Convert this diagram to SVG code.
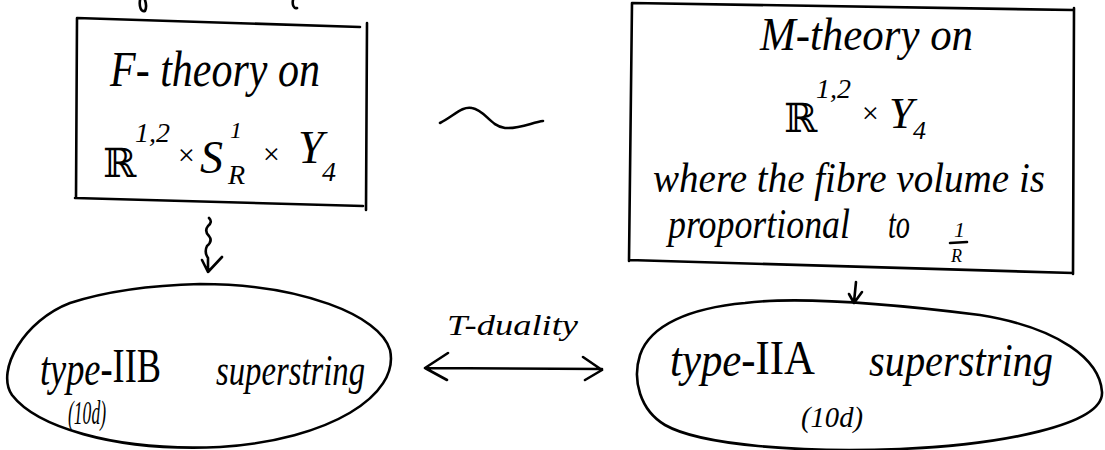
<svg xmlns="http://www.w3.org/2000/svg" width="1105" height="450" viewBox="0 0 1105 450">
  <style>
    .ink { fill: none; stroke: #000; stroke-width: 2.6; stroke-linecap: round; stroke-linejoin: round; }
    .hand { font-family: "Liberation Serif", "DejaVu Serif", serif; font-style: italic; fill: #000; }
    .rn { font-family: "Liberation Serif", "DejaVu Serif", serif; font-style: normal; fill: #000; }
    .bb { font-family: "DejaVu Serif", "Liberation Serif", serif; font-style: normal; fill: #000; }
  </style>
  <rect width="1105" height="450" fill="#fff"/>

  <!-- stray pen marks at the upper edge -->
  <path class="ink" d="M140,0 C139,7 141,12 145,11 C147,7 146,3 145,0"/>
  <path class="ink" d="M293,0 C292,5 294,9 297,8"/>

  <!-- F-theory box -->
  <g id="f-theory">
    <path class="ink" d="M77,18 L360,27 M367,23 L366,210 M363,206 L75,198 M76,198 L77,18"/>
    <text class="hand" x="110" y="86" font-size="50" textLength="210" lengthAdjust="spacingAndGlyphs">F- theory on</text>
    <text class="hand" font-size="50"><tspan class="bb" x="103" y="177" font-size="40">ℝ</tspan><tspan x="135" y="142" font-size="28">1,2</tspan><tspan x="176" y="165" font-size="30">×</tspan><tspan x="200" y="173" font-size="46">S</tspan><tspan x="230" y="138" font-size="24">1</tspan><tspan x="228" y="184" font-size="28">R</tspan><tspan x="261" y="164" font-size="30">×</tspan><tspan x="298" y="163" font-size="46">Y</tspan><tspan x="322" y="181" font-size="28">4</tspan></text>
  </g>

  <!-- M-theory box -->
  <g id="m-theory">
    <path class="ink" d="M632,3 L1073,10 M1074,8 L1073,274 M1073,273 L629,260 M629,261 L632,3"/>
    <text class="hand" x="760" y="50" font-size="46" textLength="213" lengthAdjust="spacingAndGlyphs">M-theory on</text>
    <text class="hand" font-size="48"><tspan class="bb" x="784" y="132" font-size="40">ℝ</tspan><tspan x="816" y="98" font-size="28">1,2</tspan><tspan x="860" y="123" font-size="30">×</tspan><tspan x="889" y="128" font-size="44">Y</tspan><tspan x="913" y="139" font-size="26">4</tspan></text>
    <text class="hand" x="653" y="192" font-size="42" textLength="392" lengthAdjust="spacingAndGlyphs">where the fibre volume is</text>
    <text class="hand" x="668" y="238" font-size="42" textLength="182" lengthAdjust="spacingAndGlyphs">proportional</text>
    <text class="hand" x="888" y="238" font-size="42" textLength="22" lengthAdjust="spacingAndGlyphs">to</text>
    <text class="hand" font-size="22"><tspan x="954" y="237">1</tspan><tspan x="951" y="262" font-size="18">R</tspan></text>
    <path class="ink" d="M950,243 L967,242" stroke-width="2"/>
  </g>

  <!-- type IIB ellipse -->
  <g id="type-iib">
    <path class="ink" d="M200,284 C300,284 380,315 390,350 C400,395 330,440 220,447 C110,452 35,425 12,395 C-5,370 25,320 70,303 C110,290 160,285 200,284 Z"/>
    <text x="40" y="385" font-size="48" textLength="121" lengthAdjust="spacingAndGlyphs"><tspan class="hand">type-</tspan><tspan class="rn" dy="-3">IIB</tspan></text>
    <text class="hand" x="216" y="385" font-size="44" textLength="149" lengthAdjust="spacingAndGlyphs">superstring</text>
    <text class="hand" x="68" y="424" font-size="34" textLength="38" lengthAdjust="spacingAndGlyphs">(10d)</text>
  </g>

  <!-- type IIA ellipse -->
  <g id="type-iia">
    <path class="ink" d="M745,303 C800,296 900,305 980,315 C1060,328 1100,360 1102,392 C1104,425 1000,445 900,449 C800,453 700,445 665,425 C640,410 632,380 640,355 C650,325 690,308 745,303 Z"/>
    <text x="670" y="376" font-size="48" textLength="145" lengthAdjust="spacingAndGlyphs"><tspan class="hand">type-</tspan><tspan class="rn" dy="-2">IIA</tspan></text>
    <text class="hand" x="869" y="376" font-size="46" textLength="184" lengthAdjust="spacingAndGlyphs">superstring</text>
    <text class="hand" x="801" y="427" font-size="30" textLength="62" lengthAdjust="spacingAndGlyphs">(10d)</text>
  </g>

  <!-- relations -->
  <g id="connectors">
    <path class="ink" d="M440,123 C455,115 462,106 472,108 C485,110 490,126 505,128 C520,129 533,122 543,121"/>
    <path class="ink" d="M209,218 Q213,222 208,226 Q204,231 209,236 Q213,241 207,246 Q204,252 208,258 L208,272 M202,260 L208,272 L222,257"/>
    <path class="ink" d="M856,282 L854,302 M849,294 L854,303 L862,292"/>
    <path class="ink" d="M425,368 L602,369 M448,353 L425,368 L447,380 M583,357 L602,370 L585,380"/>
    <text class="hand" x="447" y="335" font-size="30" textLength="131" lengthAdjust="spacingAndGlyphs">T-duality</text>
  </g>
</svg>
